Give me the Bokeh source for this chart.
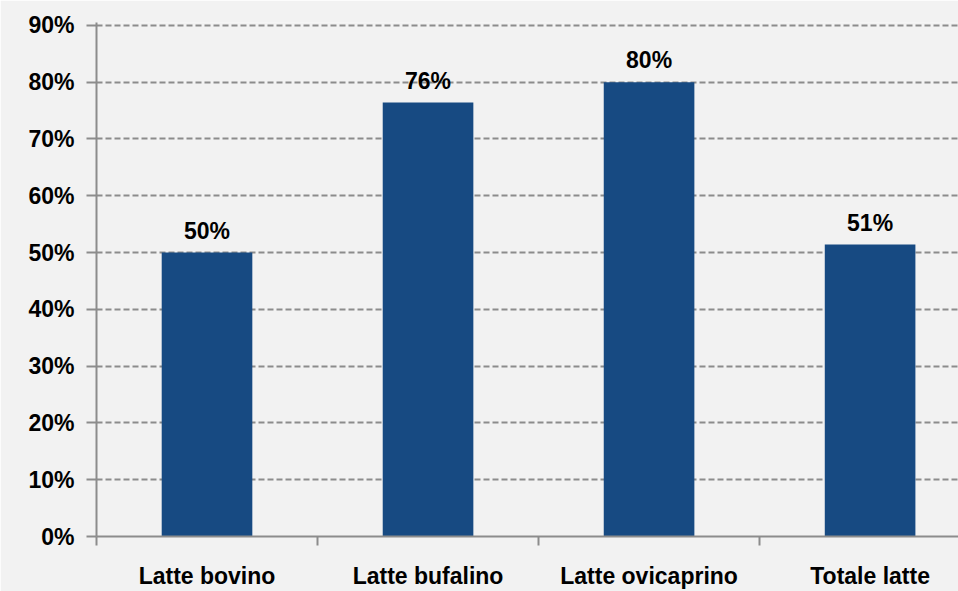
from bokeh.plotting import figure
from bokeh.models import Range1d, FixedTicker, ColumnDataSource, LabelSet
from bokeh.core.properties import value
from bokeh.embed import file_html
from bokeh.resources import INLINE

categories = ["Latte bovino", "Latte bufalino", "Latte ovicaprino", "Totale latte"]
values = [50.0, 76.4, 80.0, 51.4]
value_labels = ["50%", "76%", "80%", "51%"]
y_ticks = [0, 10, 20, 30, 40, 50, 60, 70, 80, 90]

xs = [i + 0.5 for i in range(len(categories))]
src = ColumnDataSource(dict(x=xs, top=values, lab=value_labels))

BG = "#f2f2f2"
GRAY = "#8c8c8c"
FONT = "Liberation Sans"

p = figure(width=958, height=591, output_backend="svg", toolbar_location=None,
           x_range=Range1d(0, 3.9), y_range=Range1d(0, 90.5),
           min_border_left=96, min_border_right=0, min_border_top=22, min_border_bottom=54)
p.background_fill_color = BG
p.border_fill_color = BG
p.outline_line_color = None

p.vbar(x="x", top="top", width=0.41, source=src, fill_color="#174a82", line_color=None)

labels = LabelSet(x="x", y="top", text="lab", source=src, text_align="center",
                  text_baseline="bottom", y_offset=9, text_font=value(FONT),
                  text_font_style="bold", text_font_size="23px", text_color="black")
p.add_layout(labels)

# x axis
p.xaxis.ticker = FixedTicker(ticks=xs, minor_ticks=[0, 1, 2, 3])
p.xaxis.major_label_overrides = {x: c for x, c in zip(xs, categories)}
p.xaxis.major_tick_out = 0
p.xaxis.major_tick_in = 0
p.xaxis.minor_tick_out = 9
p.xaxis.minor_tick_in = 0
p.xaxis.minor_tick_line_color = GRAY
p.xaxis.minor_tick_line_width = 2
p.xaxis.axis_line_color = GRAY
p.xaxis.axis_line_width = 2
p.xaxis.major_label_standoff = 17
p.xaxis.major_label_text_font = FONT
p.xaxis.major_label_text_font_style = "bold"
p.xaxis.major_label_text_font_size = "23px"
p.xaxis.major_label_text_color = "black"

# y axis
p.yaxis.ticker = FixedTicker(ticks=y_ticks, minor_ticks=[])
p.yaxis.major_label_overrides = {t: f"{t}%" for t in y_ticks}
p.yaxis.major_tick_out = 10
p.yaxis.major_tick_in = 0
p.yaxis.major_tick_line_color = GRAY
p.yaxis.major_tick_line_width = 2
p.yaxis.axis_line_color = GRAY
p.yaxis.axis_line_width = 2
p.yaxis.major_label_standoff = 12
p.yaxis.major_label_text_font = FONT
p.yaxis.major_label_text_font_style = "bold"
p.yaxis.major_label_text_font_size = "23px"
p.yaxis.major_label_text_color = "black"

p.xgrid.grid_line_color = None
p.ygrid.grid_line_color = GRAY
p.ygrid.grid_line_width = 2
p.ygrid.grid_line_dash = "6 3"

open("out.html", "w").write(file_html(p, INLINE))
